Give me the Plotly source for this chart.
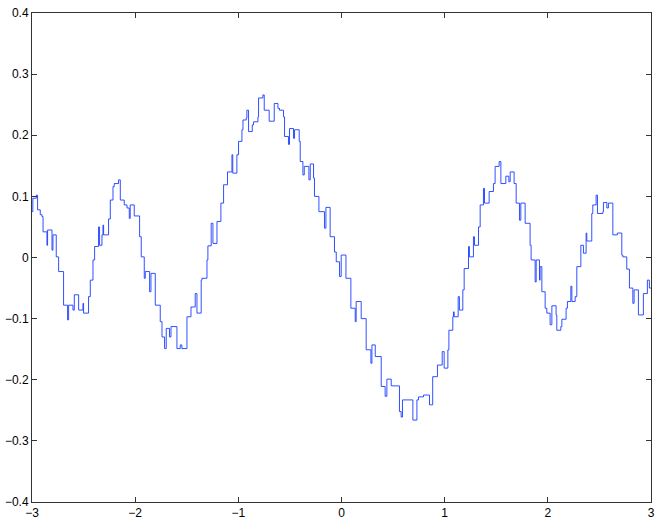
import plotly.graph_objects as go

# Step-function breakpoints (x where each level starts, level value)
x_steps = [-3.000, -2.992, -2.958, -2.946, -2.920, -2.903, -2.893, -2.855, -2.849, -2.806,
           -2.797, -2.765, -2.742, -2.694, -2.655, -2.645, -2.603, -2.590, -2.548, -2.506,
           -2.500, -2.452, -2.435, -2.409, -2.393, -2.355, -2.345, -2.322, -2.312, -2.306,
           -2.258, -2.241, -2.215, -2.203, -2.161, -2.144, -2.106, -2.079, -2.057, -2.048,
           -2.009, -1.957, -1.941, -1.912, -1.902, -1.860, -1.847, -1.805, -1.757, -1.740,
           -1.715, -1.699, -1.667, -1.653, -1.595, -1.563, -1.547, -1.498, -1.459, -1.418,
           -1.401, -1.360, -1.353, -1.304, -1.295, -1.263, -1.246, -1.207, -1.169, -1.143,
           -1.105, -1.062, -1.054, -1.014, -0.998, -0.965, -0.955, -0.923, -0.917, -0.901,
           -0.865, -0.853, -0.810, -0.804, -0.762, -0.749, -0.701, -0.652, -0.616, -0.601,
           -0.562, -0.552, -0.514, -0.504, -0.465, -0.455, -0.410, -0.400, -0.374, -0.361,
           -0.316, -0.303, -0.271, -0.262, -0.219, -0.165, -0.151, -0.110, -0.068, -0.051,
           -0.019, -0.003, 0.043, 0.091, 0.133, 0.142, 0.191, 0.239, 0.285, 0.295,
           0.327, 0.385, 0.423, 0.440, 0.482, 0.562, 0.578, 0.591, 0.692, 0.731,
           0.746, 0.795, 0.853, 0.884, 0.930, 0.976, 0.995, 1.031, 1.041, 1.079,
           1.085, 1.092, 1.131, 1.143, 1.176, 1.189, 1.231, 1.240, 1.279, 1.289,
           1.328, 1.344, 1.376, 1.386, 1.431, 1.473, 1.489, 1.528, 1.545, 1.593,
           1.622, 1.635, 1.673, 1.693, 1.725, 1.738, 1.780, 1.828, 1.838, 1.877,
           1.887, 1.919, 1.925, 1.942, 1.974, 1.990, 2.022, 2.039, 2.080, 2.087,
           2.126, 2.136, 2.177, 2.190, 2.223, 2.233, 2.265, 2.281, 2.320, 2.345,
           2.371, 2.378, 2.426, 2.436, 2.468, 2.481, 2.533, 2.539, 2.572, 2.587,
           2.630, 2.674, 2.717, 2.727, 2.765, 2.791, 2.824, 2.836, 2.878, 2.926,
           2.965, 2.984, 3.000]

y_levels = [0.075, 0.097, 0.102, 0.078, 0.070, 0.067, 0.042, 0.020, 0.045, 0.012,
            0.037, 0.001, -0.023, -0.078, -0.102, -0.078, -0.086, -0.061, -0.086, -0.075,
            -0.091, -0.064, -0.037, -0.004, 0.018, 0.050, 0.020, 0.037, 0.053, 0.037,
            0.063, 0.094, 0.116, 0.121, 0.127, 0.094, 0.086, 0.081, 0.064, 0.086,
            0.068, 0.034, 0.001, -0.034, -0.023, -0.056, -0.026, -0.078, -0.105, -0.130,
            -0.149, -0.116, -0.130, -0.113, -0.149, -0.143, -0.149, -0.097, -0.081, -0.059,
            -0.091, -0.037, -0.034, -0.004, 0.019, 0.056, 0.023, 0.059, 0.089, 0.119,
            0.140, 0.168, 0.138, 0.168, 0.190, 0.209, 0.225, 0.228, 0.241, 0.206,
            0.217, 0.222, 0.230, 0.261, 0.266, 0.241, 0.223, 0.252, 0.244, 0.241,
            0.230, 0.198, 0.185, 0.211, 0.195, 0.209, 0.190, 0.157, 0.135, 0.149,
            0.127, 0.153, 0.130, 0.100, 0.075, 0.048, 0.082, 0.034, 0.009, -0.007,
            -0.031, 0.004, -0.034, -0.083, -0.105, -0.072, -0.100, -0.151, -0.173, -0.143,
            -0.162, -0.211, -0.227, -0.199, -0.210, -0.252, -0.261, -0.233, -0.266, -0.233,
            -0.228, -0.225, -0.241, -0.195, -0.176, -0.154, -0.181, -0.151, -0.119, -0.097,
            -0.089, -0.097, -0.064, -0.086, -0.053, -0.018, 0.018, 0.001, 0.034, 0.020,
            0.050, 0.086, 0.113, 0.089, 0.108, 0.121, 0.149, 0.157, 0.121, 0.133,
            0.124, 0.140, 0.121, 0.089, 0.061, 0.089, 0.056, 0.020, -0.004, -0.040,
            -0.004, -0.037, -0.015, -0.056, -0.083, -0.091, -0.110, -0.079, -0.094, -0.119,
            -0.113, -0.101, -0.083, -0.072, -0.047, -0.072, -0.064, -0.015, 0.020, 0.007,
            0.040, 0.027, 0.072, 0.086, 0.102, 0.072, 0.075, 0.090, 0.081, 0.089,
            0.037, 0.040, 0.004, 0.001, -0.019, -0.050, -0.075, -0.053, -0.094, -0.059,
            -0.037, -0.050, -0.050]

x_ticks = [-3, -2, -1, 0, 1, 2, 3]
x_tick_labels = ["\u22123", "\u22122", "\u22121", "0", "1", "2", "3"]
y_ticks = [-0.4, -0.3, -0.2, -0.1, 0, 0.1, 0.2, 0.3, 0.4]
y_tick_labels = ["\u22120.4", "\u22120.3", "\u22120.2", "\u22120.1", "0",
                 "0.1", "0.2", "0.3", "0.4"]

fig = go.Figure()
fig.add_trace(go.Scatter(
    x=x_steps, y=y_levels, mode="lines",
    line=dict(color="#1a3cff", width=0.9, shape="hv"),
    showlegend=False, hoverinfo="skip", cliponaxis=True,
))

axis_common = dict(
    showgrid=False, zeroline=False, showline=True, linecolor="#333333", linewidth=1,
    mirror="ticks", ticks="inside", ticklen=5, tickcolor="#333333", tickwidth=1,
    automargin=False,
    tickfont=dict(family="Liberation Sans, Arial, sans-serif", size=12, color="#000000"),
)

fig.update_layout(
    width=661, height=520,
    margin=dict(l=32, r=10, t=13, b=18, autoexpand=False),
    paper_bgcolor="white", plot_bgcolor="white",
    xaxis=dict(range=[-3, 3], tickvals=x_ticks, ticktext=x_tick_labels, **axis_common),
    yaxis=dict(range=[-0.4, 0.4], tickvals=y_ticks, ticktext=y_tick_labels, **axis_common),
)

# remove the default page margin so the figure sits at the window's top-left corner
fig.write_html(
    "out.html",
    config={"displayModeBar": False, "staticPlot": True},
    post_script="document.body.style.margin='0';document.body.style.overflow='hidden';",
)
